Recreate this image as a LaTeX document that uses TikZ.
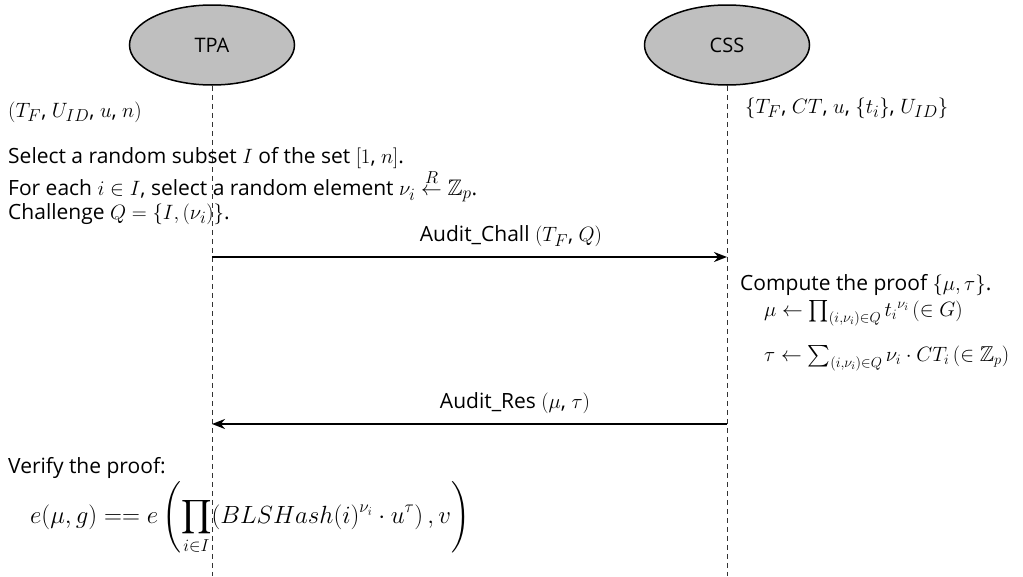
\documentclass[tikz,border=0pt]{standalone}
\usepackage{amsmath,amssymb}
\usepackage{fontspec}
\setmainfont{Open Sans}
\DeclareMathSizes{21}{22.5}{16}{12}
\DeclareMathSizes{20}{21.5}{15.5}{11}
\DeclareMathSizes{22}{23.8}{17}{13}
\usetikzlibrary{shapes.geometric,arrows.meta}
\tikzset{
  party/.style={ellipse,draw=black,line width=1.5pt,fill=black!25,minimum width=165pt,minimum height=80pt,inner sep=0pt,font=\fontsize{20}{24}\selectfont},
  lifeline/.style={draw=black!80,dashed,dash pattern=on 5pt off 4pt,line width=0.8pt},
  msg/.style={draw=black,line width=2pt,-{Stealth[length=13pt,width=10pt]}},
  txt/.style={anchor=west,inner sep=0pt,font=\fontsize{21}{27}\selectfont},
  formula/.style={anchor=west,inner sep=0pt,font=\fontsize{20}{27}\selectfont},
  bigformula/.style={anchor=west,inner sep=0pt,font=\fontsize{22}{27}\selectfont},
  lbl/.style={anchor=center,inner sep=0pt,font=\fontsize{21}{27}\selectfont}
}
\begin{document}
\begin{tikzpicture}[x=1pt,y=-1pt]
\useasboundingbox (0,0) rectangle (1023,576);
% participants
\node[party] (tpa) at (212,45) {TPA};
\node[party] (css) at (727,45) {CSS};
\coordinate (tpaend) at (212,576);
\coordinate (cssend) at (727,576);
\draw[lifeline] (tpa.south) -- (tpaend);
\draw[lifeline] (css.south) -- (cssend);
% TPA side, initial state and challenge
\node[txt] (tpain) at (8,112) {$(T_F$, $U_{ID}$, $u$, $n)$};
\node[txt] (sel) at (8,158) {Select a random subset $I$ of the set $[1$, $n]$.};
\node[txt] (each) at (8,186) {For each $i\in I$, select a random element $\nu_i \overset{R}{\leftarrow} \mathbb{Z}_p$.};
\node[txt] (chal) at (8,214) {Challenge $Q=\{I,(\nu_i)\}$.};
% CSS side, stored data
\node[txt] (cssin) at (745,108) {$\{T_F$, $CT$, $u$, $\{t_i\}$, $U_{ID}\}$};
% challenge message
\coordinate (c1) at (212,257);
\coordinate (c2) at (727,257);
\draw[msg] (c1) -- (c2);
\node[lbl] (chl) at (511,236) {Audit\_Chall $(T_F$, $Q)$};
% proof computation
\node[txt] (comp) at (740,285) {Compute the proof $\{\mu,\tau\}$.};
\node[formula] (mu) at (764,313) {$\mu \leftarrow \prod_{(i,\nu_i)\in Q} {t_i}^{\nu_i}\,(\in G)$};
\node[formula] (tau) at (764,358) {$\tau \leftarrow \sum_{(i,\nu_i)\in Q} \nu_i\cdot CT_i\,(\in \mathbb{Z}_p)$};
% response message
\coordinate (r1) at (727,424);
\coordinate (r2) at (212,424);
\draw[msg] (r1) -- (r2);
\node[lbl] (rsl) at (515,403) {Audit\_Res $(\mu$, $\tau)$};
% verification
\node[txt] (ver) at (8,468) {Verify the proof:};
\node[bigformula] (eq) at (30,518) {$\displaystyle e(\mu,g) == e\left(\prod_{i\in I}(BLSHash(i)^{\nu_i}\cdot u^{\tau})\,,v\right)$};
\end{tikzpicture}
\end{document}
